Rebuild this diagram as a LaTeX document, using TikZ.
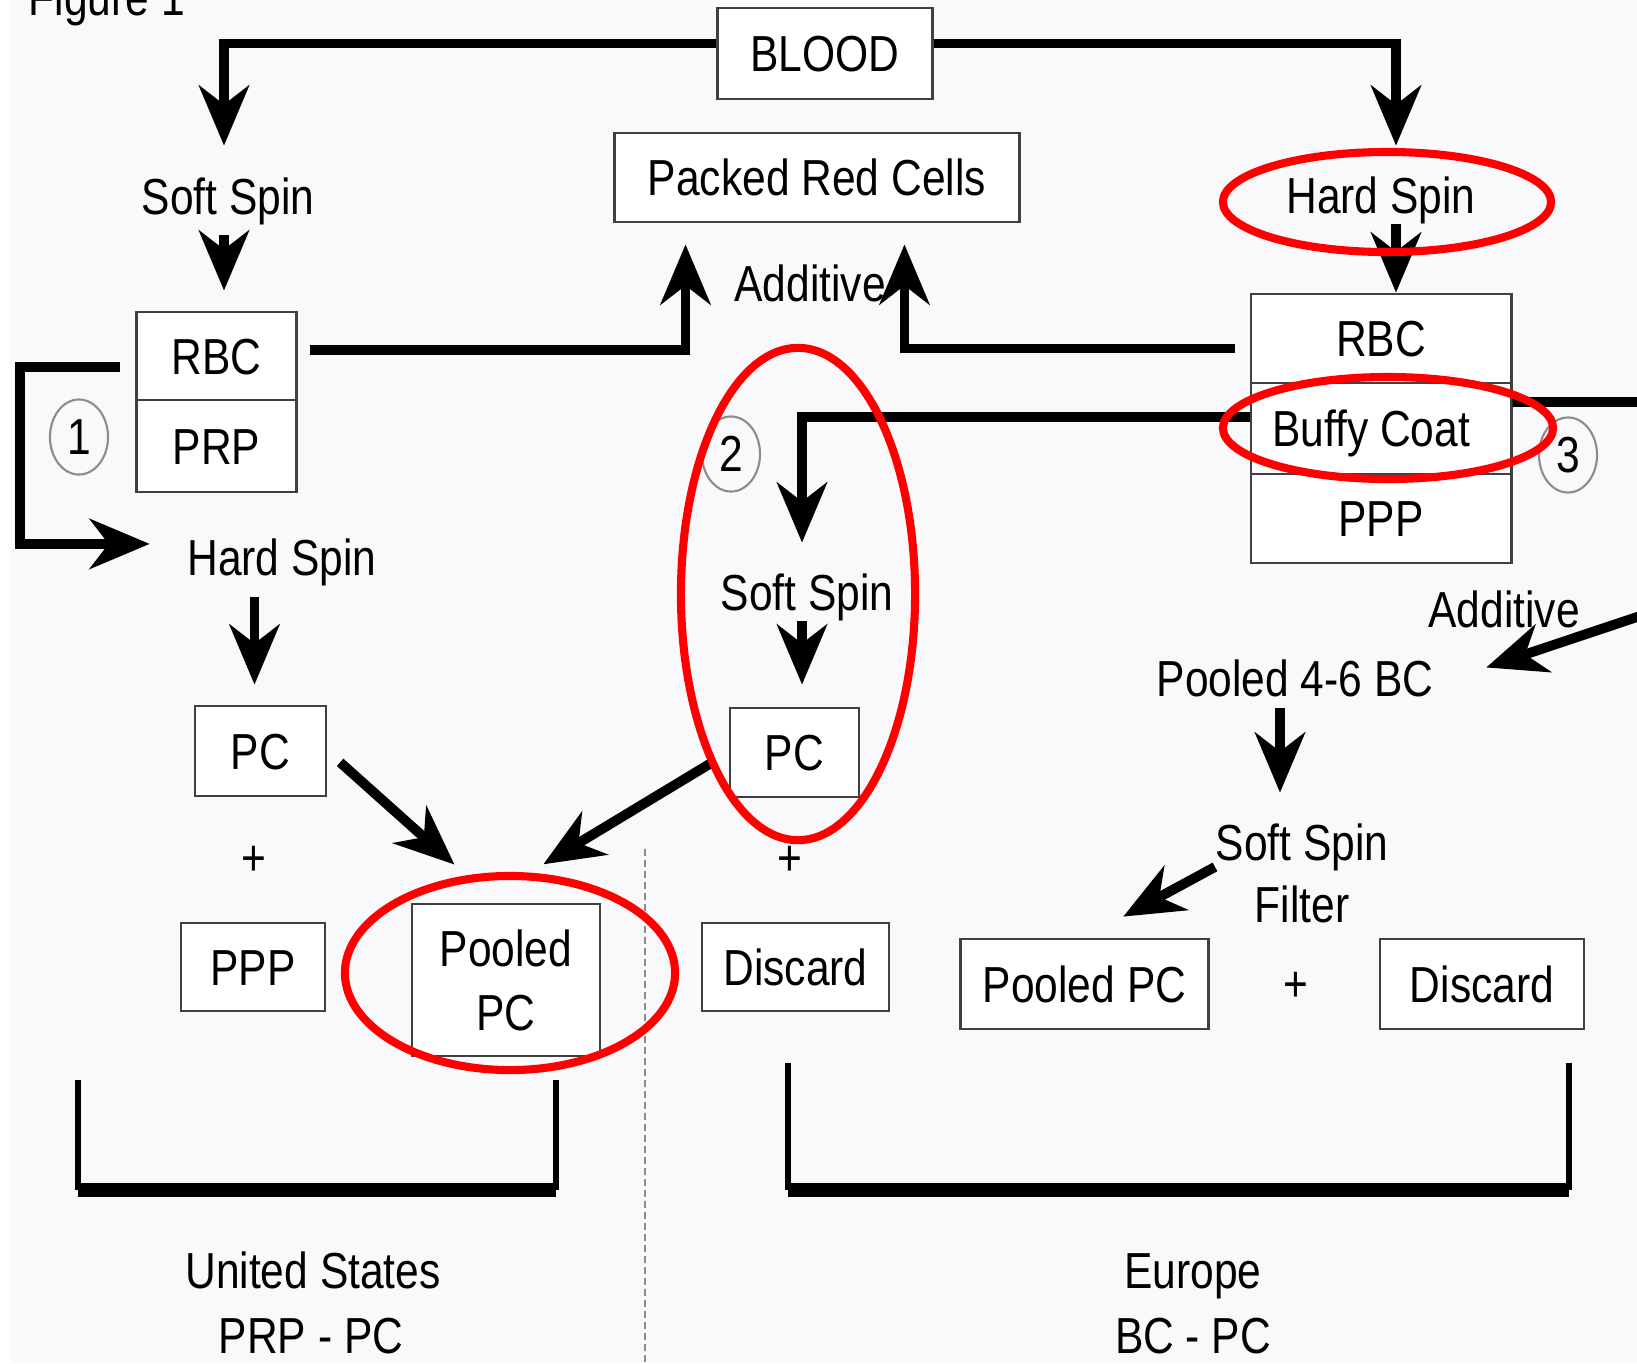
\documentclass[tikz,border=0pt]{standalone}
\usepackage{fontspec}
\setmainfont{Liberation Sans}[FakeStretch=0.84]
\usepackage{xcolor}
\usepackage{tikz}
\usetikzlibrary{arrows.meta, shapes.geometric, calc}
\definecolor{ringred}{RGB}{255,0,0}
\definecolor{paper}{RGB}{249,249,251}

\begin{document}
\begin{tikzpicture}[x=0.01cm, y=-0.01cm,
    every node/.style={font=\fontsize{14.4}{18.2}\selectfont},
    box/.style={rectangle, draw=black!75, line width=0.8pt, fill=white, inner sep=0pt, text height=10.4pt, text depth=0pt},
    lbl/.style={inner sep=0pt, anchor=base},
    flow/.style={line width=2.8pt, -{Stealth[length=0.6cm, width=0.5cm, inset=0.19cm]}},
    ring/.style={draw=ringred, line width=2.3pt},
    num/.style={ellipse, draw=black!45, line width=0.6pt, minimum width=0.58cm, minimum height=0.75cm, inner sep=0pt},
    bracketside/.style={line width=1.7pt},
    bracketbase/.style={line width=4pt},
    divider/.style={draw=black!45, line width=0.8pt, dash pattern=on 0.07cm off 0.04cm}]

    % Frame
    \useasboundingbox (0,0) rectangle (1637,1363);
    \fill[white] (0,0) rectangle (1637,1363);
    \fill[paper] (10,0) rectangle (1637,1363);
    \node[lbl, anchor=base west] (figlbl) at (28,15) {Figure 1};

    % Blood
    \node[box, minimum width=2.15cm, minimum height=0.91cm] (blood) at (825,53.5) {BLOOD};
    \node[box, minimum width=4.04cm, minimum height=0.89cm] (prc) at (817,177.5) {Packed Red Cells};
    \node[lbl] (addM) at (810,301) {Additive};

    % United States (PRP)
    \node[lbl] (softL) at (228,214) {Soft Spin};
    \node[box, minimum width=1.60cm, minimum height=0.88cm] (rbcL) at (216.5,356) {RBC};
    \node[box, minimum width=1.60cm, minimum height=0.92cm] (prpL) at (216.5,446) {PRP};
    \node[num] (n1) at (79,437) {1};
    \node[lbl] (hardL) at (282,575) {Hard Spin};
    \node[box, minimum width=1.31cm, minimum height=0.90cm] (pcL) at (260.5,751) {PC};
    \node (plusL) at (254,861) {+};
    \node[box, minimum width=1.44cm, minimum height=0.88cm] (pppL) at (253,967) {PPP};
    \node[box, align=center, text height=, text depth=, minimum width=1.88cm, minimum height=1.52cm] (poolL) at (506,980) {Pooled\\PC};

    % Middle
    \node[num] (n2) at (731,454) {2};
    \node[lbl] (softM) at (807,610) {Soft Spin};
    \node[box, minimum width=1.29cm, minimum height=0.89cm] (pcM) at (794.5,752.5) {PC};
    \node (plusM) at (790,861) {+};
    \node[box, minimum width=1.87cm, minimum height=0.88cm] (discM) at (795.5,967) {Discard};

    % Europe (buffy coat)
    \node[lbl] (hardR) at (1381,213) {Hard Spin};
    \node[box, minimum width=2.60cm, minimum height=0.89cm] (rbcR) at (1381,338.5) {RBC};
    \node[box, minimum width=2.60cm, minimum height=0.91cm] (bcR) at (1381,428.5) {\hspace*{-0.2cm}Buffy Coat};
    \node[box, minimum width=2.60cm, minimum height=0.89cm] (pppR) at (1381,518.5) {PPP};
    \node[num] (n3) at (1568,455) {3};
    \node[lbl] (addR) at (1504,627) {Additive};
    \node[lbl] (poolBC) at (1295,696) {Pooled 4-6 BC};
    \node[lbl] (softR) at (1302,860) {Soft Spin};
    \node[lbl] (filterR) at (1302,922) {Filter};
    \node[box, minimum width=2.48cm, minimum height=0.90cm] (poolR) at (1084.5,984) {Pooled PC};
    \node (plusR) at (1296,987) {+};
    \node[box, minimum width=2.04cm, minimum height=0.90cm] (discR) at (1482,984) {Discard};
    \coordinate (edgeBC) at (1640,402);
    \coordinate (edgeAdd) at (1640,616);

    % Bottom labels
    \node[lbl] (usA) at (313,1288) {United States};
    \node[lbl] (usB) at (311,1353) {PRP - PC};
    \node[lbl] (euA) at (1193,1288) {Europe};
    \node[lbl] (euB) at (1193,1353) {BC - PC};

    % Blood split
    \draw[flow, shorten >=0.31cm] ([yshift=0.1cm]blood.west) -| ([xshift=-0.04cm]softL.north);
    \draw[flow, shorten >=0.30cm] ([yshift=0.1cm]blood.east) -| ([xshift=0.15cm]hardR.north);
    \draw[flow, shorten <=0.10cm, shorten >=0.20cm] ([xshift=-0.04cm]softL.south) -- ([xshift=-0.04cm]softL.south |- rbcL.north);
    \draw[flow] ([xshift=0.15cm]hardR.south) -- ([xshift=0.15cm]hardR.south |- rbcR.north);

    % Additive to packed red cells
    \draw[flow, shorten <=0.12cm, shorten >=0.21cm] ([yshift=0.06cm]rbcL.east) -| ([xshift=0.72cm]prc.south west);
    \draw[flow, shorten <=0.15cm, shorten >=0.21cm] ([yshift=-0.1cm]rbcR.west) -| ([xshift=-1.16cm]prc.south east);

    % PRP route
    \draw[flow, shorten <=0.15cm, shorten >=0.37cm] ([yshift=-0.11cm]rbcL.west) -- ++(-115,0) |- ([yshift=0.18cm]hardL.west);
    \draw[flow, shorten <=0.11cm, shorten >=0.20cm] ([xshift=-0.06cm]pcL.north |- hardL.south) -- ([xshift=-0.06cm]pcL.north);
    \draw[flow, shorten <=0.17cm, shorten >=0.57cm] (pcL.east) -- ([xshift=-0.09cm]poolL.north);
    \draw[flow, shorten <=0.18cm, shorten >=0.74cm] (pcM.west) -- ([xshift=-0.26cm]poolL.north);

    % Buffy coat route
    \draw[flow, shorten >=0.30cm] ([yshift=0.115cm]bcR.west) -| ([xshift=-0.05cm]softM.north);
    \draw[flow, shorten >=0.22cm] ([xshift=0.075cm]pcM.north |- softM.south) -- ([xshift=0.075cm]pcM.north);
    \draw[line width=2.8pt] ([yshift=0.265cm]bcR.east) -- (edgeBC);
    \draw[flow, shorten >=0.55cm] (edgeAdd) -- ([yshift=-0.07cm]poolBC.east);
    \draw[flow, shorten <=0.11cm, shorten >=0.30cm] ([xshift=-0.15cm]poolBC.south) -- ([xshift=-0.15cm]poolBC.south |- softR.north);
    \draw[flow, shorten >=0.44cm] ([yshift=-0.2cm]softR.west) -- (poolR.north);

    % Brackets and divider
    \draw[bracketside] (78,1080) -- (78,1190) (556,1080) -- (556,1190);
    \draw[bracketbase] (78,1190) -- (556,1190);
    \draw[bracketside] (788,1063) -- (788,1190) (1569,1063) -- (1569,1190);
    \draw[bracketbase] (788,1190) -- (1569,1190);
    \draw[divider] (645,849) -- (645,1363);

    % Red rings
    \draw[ring] (1387,202) ellipse [x radius=1.64cm, y radius=0.50cm];
    \draw[ring] (1388,428) ellipse [x radius=1.65cm, y radius=0.51cm];
    \draw[ring] (798,594) ellipse [x radius=1.17cm, y radius=2.46cm];
    \draw[ring] (510,973) ellipse [x radius=1.65cm, y radius=0.97cm];
\end{tikzpicture}
\end{document}
